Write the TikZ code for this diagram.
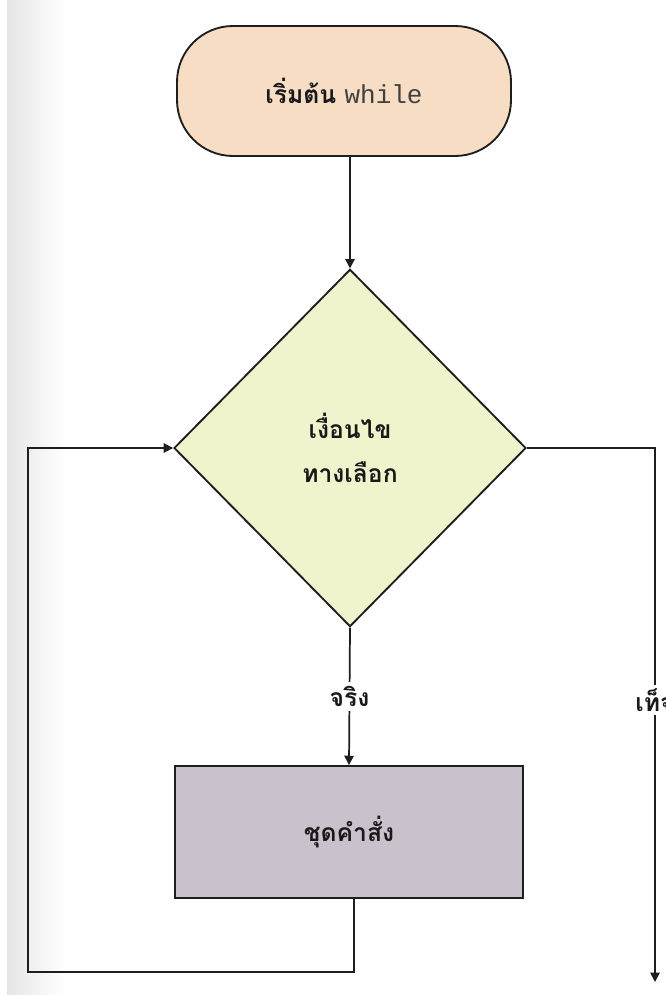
\documentclass[tikz,border=0pt]{standalone}
\usepackage{fontspec}
\newfontfamily\thai[Script=Thai]{Loma}
\newfontfamily\codefont{Liberation Mono}
\usetikzlibrary{shapes.geometric,arrows.meta}
\definecolor{startfill}{RGB}{246,221,196}
\definecolor{condfill}{RGB}{241,243,204}
\definecolor{bodyfill}{RGB}{201,193,204}
\definecolor{edge}{RGB}{30,30,30}
\definecolor{ink}{RGB}{25,25,25}
\tikzset{
  shape line/.style={draw=edge, line width=1.4pt},
  label font/.style={font=\thai\bfseries\fontsize{18.5}{33}\selectfont, text=ink},
  startbox/.style={shape line, fill=startfill, rectangle, rounded corners=42pt,
    minimum width=250.5pt, minimum height=97.5pt, label font},
  condbox/.style={shape line, fill=condfill, diamond, aspect=1, inner sep=0pt,
    minimum width=264pt, minimum height=268pt, align=center, label font},
  bodybox/.style={shape line, fill=bodyfill, rectangle,
    minimum width=261pt, minimum height=99pt, label font},
  flow/.style={draw=edge, line width=1.3pt, -{Triangle[length=7pt,width=7pt]}},
  tag/.style={fill=white, inner sep=3pt, label font}
}
\begin{document}
\begin{tikzpicture}[x=0.75pt, y=-0.75pt]
  % page and scanned margin
  \useasboundingbox (0,0) rectangle (665,995);
  \fill[white] (0,0) rectangle (665,995);
  \shade[left color=black!10, right color=white] (7,0) rectangle (65,995);

  % flowchart nodes
  \node[startbox] (start) at (344,91) {เริ่มต้น {\codefont\mdseries\fontsize{19.5}{22}\selectfont\color{black!75}while}};
  \node[condbox] (cond) at (350,448) {เงื่อนไข\\ทางเลือก};
  \node[bodybox] (body) at (349,832) {ชุดคำสั่ง};

  % free ends of the loop
  \coordinate (loopbl) at (28,972);
  \coordinate (exitend) at (655,982);

  % connectors
  \draw[flow] (cond.north |- start.south) -- (cond.north);
  \draw[flow] (cond.south) -- node[tag] (truetag) {จริง} (body.north);
  \draw[flow] ([xshift=3.75pt]body.south) |- (loopbl) |- (cond.west);
  \draw[flow] (cond.east) -| (exitend);
  \node[tag] (falsetag) at (655,700) {เท็จ};
\end{tikzpicture}
\end{document}
